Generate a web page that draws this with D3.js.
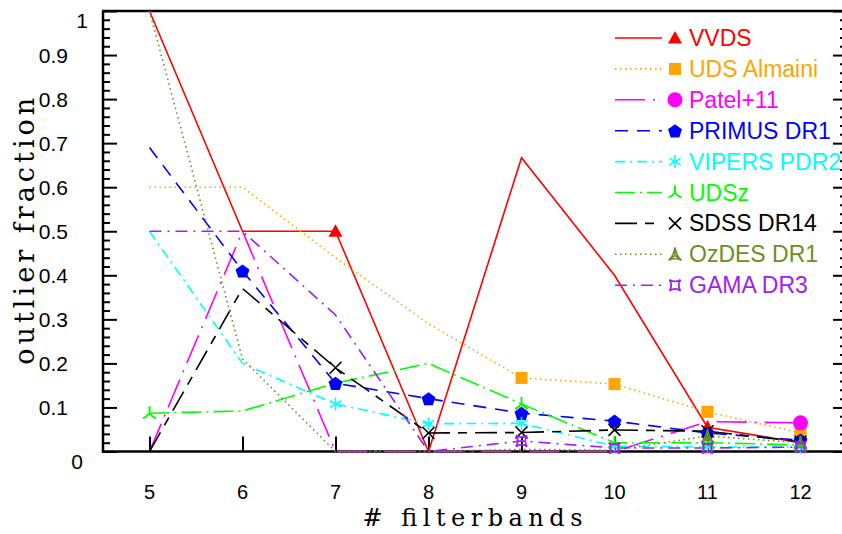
<!DOCTYPE html>
<html><head><meta charset="utf-8">
<script src="https://cdn.jsdelivr.net/npm/d3@7"></script>
<style>body{margin:0;background:#fff;} svg{display:block;}</style>
</head><body><svg id="c" width="842" height="534"></svg>
<script>
// ---------- data ----------
const filterbands = [5, 6, 7, 8, 9, 10, 11, 12];
const seriesNames = ["VVDS", "UDS Almaini", "Patel+11", "PRIMUS DR1", "VIPERS PDR2", "UDSz", "SDSS DR14", "OzDES DR1", "GAMA DR3"];
const vvds       = [1.0, 0.5, 0.5, 0, 0.667, 0.4, 0.055, 0.02];
const udsAlmaini = [0.6, 0.6, 0.44, 0.29, 0.167, 0.153, 0.09, 0.042];
const patel11    = [0, 0.5, 0, 0, 0, 0, 0.068, 0.065];
const primusDR1  = [0.69, 0.41, 0.155, 0.12, 0.087, 0.069, 0.042, 0.026];
const vipersPDR2 = [0.5, 0.2, 0.108, 0.063, 0.064, 0.012, 0.01, 0.01];
const udsz       = [0.087, 0.092, 0.155, 0.2, 0.108, 0.02, 0.02, 0.015];
const sdssDR14   = [0, 0.37, 0.19, 0.042, 0.043, 0.049, 0.046, 0.022];
const ozdesDR1   = [1.0, 0.21, 0, 0, 0.005, 0.003, 0.035, 0.02];
const gamaDR3    = [0.5, 0.5, 0.31, 0, 0.024, 0.008, 0.008, 0.01];
// which points carry a marker (1 = drawn)
const vvdsMarks   = [0, 0, 1, 0, 0, 0, 1, 0];
const udsMarks    = [0, 0, 0, 0, 1, 1, 1, 1];
const patelMarks  = [0, 0, 0, 0, 0, 0, 0, 1];
const primusMarks = [0, 1, 1, 1, 1, 1, 1, 1];
const vipersMarks = [0, 0, 1, 1, 1, 1, 1, 1];
const udszMarks   = [1, 0, 0, 0, 1, 1, 1, 1];
const sdssMarks   = [0, 0, 1, 1, 1, 1, 1, 1];
const ozdesMarks  = [0, 0, 0, 0, 0, 0, 1, 1];
const gamaMarks   = [0, 0, 0, 0, 1, 1, 1, 1];
const yTickLabels = ["0", "0.1", "0.2", "0.3", "0.4", "0.5", "0.6", "0.7", "0.8", "0.9", "1"];
const xLabel = "# filterbands";
const yLabel = "outlier fraction";

// ---------- styles ----------
const colors  = ["#ff0000", "#ffa500", "#ff00ff", "#0000ff", "#00ffff", "#00ff00", "#000000", "#6b8e23", "#a020f0"];
const dashes  = [null, "1.5,3.5", "30,8,2,8", "13,9", "10,5,2,5", "20,5,2,5", "22,8,9,8", "1.5,3.5", "12,6,2,6"];
const symbols = ["triangle", "square", "circle", "pentagon", "asterisk", "tri3", "cross", "tripod", "astroid"];
const values  = [vvds, udsAlmaini, patel11, primusDR1, vipersPDR2, udsz, sdssDR14, ozdesDR1, gamaDR3];
const marks   = [vvdsMarks, udsMarks, patelMarks, primusMarks, vipersMarks, udszMarks, sdssMarks, ozdesMarks, gamaMarks];

const series = seriesNames.map((name, i) => ({
  name, color: colors[i], dash: dashes[i], symbol: symbols[i],
  points: filterbands.map((f, j) => ({x: f, y: values[i][j], m: marks[i][j]}))
}));

const svg = d3.select("#c");
const L = 103, R = 847, T = 11, B = 451.5;
const x = d3.scaleLinear().domain([4.5, 12.5]).range([L, R]);
const y = d3.scaleLinear().domain([0, 1]).range([B, T]);
const sans = "'Liberation Sans', Arial, sans-serif";
const serif = "'DejaVu Serif', serif";

// ---------- frame & ticks ----------
const majors = d3.range(0, 11).map(d => d / 10);
const minors = d3.range(0, 51).map(d => d / 50).filter(d => Math.round(d * 50) % 5 !== 0);

function styleAxis(g) {
  g.select(".domain").remove();
  g.selectAll("line").attr("stroke", "#000").attr("stroke-width", 2);
}
svg.append("g").attr("transform", `translate(${L},0)`)
  .call(d3.axisLeft(y).tickValues(majors).tickSize(-14).tickFormat("")).call(styleAxis);
svg.append("g").attr("transform", `translate(${L},0)`)
  .call(d3.axisLeft(y).tickValues(minors).tickSize(-7).tickFormat("")).call(styleAxis);
svg.append("g").attr("transform", `translate(${R},0)`)
  .call(d3.axisRight(y).tickValues(majors).tickSize(-14).tickFormat("")).call(styleAxis);
svg.append("g").attr("transform", `translate(${R},0)`)
  .call(d3.axisRight(y).tickValues(minors).tickSize(-7).tickFormat("")).call(styleAxis);
svg.append("g").attr("transform", `translate(0,${B})`)
  .call(d3.axisBottom(x).tickValues(filterbands).tickSize(-15).tickFormat("")).call(styleAxis);

svg.append("line").attr("x1", L).attr("x2", L).attr("y1", T).attr("y2", B + 1.5)
  .attr("stroke", "#000").attr("stroke-width", 2.5);
svg.append("line").attr("x1", L - 1).attr("x2", R).attr("y1", T).attr("y2", T)
  .attr("stroke", "#000").attr("stroke-width", 2.5);
svg.append("line").attr("x1", L - 1).attr("x2", R).attr("y1", B).attr("y2", B)
  .attr("stroke", "#000").attr("stroke-width", 2.5);

// tick labels
svg.append("g").selectAll("text").data(majors).join("text")
  .attr("x", (d, i) => i === 0 ? 83 : (i === 10 ? 88 : 68))
  .attr("y", (d, i) => y(d) + (i === 0 || i === 10 ? 17 : 7.5))
  .attr("text-anchor", "end")
  .attr("font-family", sans).attr("font-size", 21)
  .text((d, i) => yTickLabels[i]);
svg.append("g").selectAll("text").data(filterbands).join("text")
  .attr("x", d => x(d)).attr("y", 499)
  .attr("text-anchor", "middle")
  .attr("font-family", sans).attr("font-size", 20)
  .text(d => d);

// axis titles
svg.append("text").attr("x", (L + 842) / 2).attr("y", 526).attr("text-anchor", "middle")
  .attr("font-family", serif).attr("font-size", 24)
  .attr("textLength", 220).attr("lengthAdjust", "spacing")
  .text(xLabel);
svg.append("text").attr("transform", `translate(34,${(T + B) / 2}) rotate(-90)`).attr("text-anchor", "middle")
  .attr("font-family", serif).attr("font-size", 27)
  .attr("textLength", 267).attr("lengthAdjust", "spacing")
  .text(yLabel);

// ---------- markers ----------
function drawMarker(g, type, color) {
  const sw = 1.6;
  switch (type) {
    case "triangle":
      g.append("path").attr("d", "M0,-7L7,5.5L-7,5.5Z").attr("fill", color); break;
    case "square":
      g.append("rect").attr("x", -6).attr("y", -6).attr("width", 12).attr("height", 12).attr("fill", color); break;
    case "circle":
      g.append("circle").attr("r", 7.5).attr("fill", color); break;
    case "pentagon": {
      const pts = d3.range(5).map(k => { const a = -Math.PI / 2 + k * 2 * Math.PI / 5; return [7.3 * Math.cos(a), 7.3 * Math.sin(a) + 0.8]; });
      g.append("path").attr("d", "M" + pts.join("L") + "Z").attr("fill", color); break;
    }
    case "asterisk": {
      const r = 6.5;
      [90, 30, 150].forEach(a => {
        const rad = a * Math.PI / 180;
        g.append("line").attr("x1", -r * Math.cos(rad)).attr("y1", -r * Math.sin(rad))
          .attr("x2", r * Math.cos(rad)).attr("y2", r * Math.sin(rad))
          .attr("stroke", color).attr("stroke-width", sw);
      });
      break;
    }
    case "tri3":
      g.append("path").attr("d", "M0,0L0,-7M0,0Q-3,4 -6.5,5M0,0Q3,4 6.5,5")
        .attr("fill", "none").attr("stroke", color).attr("stroke-width", sw + 0.4); break;
    case "cross":
      g.append("path").attr("d", "M-6,-6L6,6M-6,6L6,-6").attr("stroke", color).attr("stroke-width", sw); break;
    case "tripod":
      g.append("path").attr("d", "M0,-7L0,1M0,1L-6.5,6M0,1L6.5,6M0,-7Q-2,3 -6.5,6Q0,3 6.5,6Q2,3 0,-7")
        .attr("fill", "none").attr("stroke", color).attr("stroke-width", 1.5); break;
    case "astroid":
      g.append("path").attr("d", "M-5.5,-5.5Q0,-2 5.5,-5.5Q2,0 5.5,5.5Q0,2 -5.5,5.5Q-2,0 -5.5,-5.5Z")
        .attr("fill", "none").attr("stroke", color).attr("stroke-width", 1.8); break;
  }
}

// ---------- lines ----------
const line = d3.line().x(d => x(d.x)).y(d => y(d.y));
series.forEach(s => {
  svg.append("path").datum(s.points).attr("d", line)
    .attr("fill", "none").attr("stroke", s.color).attr("stroke-width", 1.6)
    .attr("stroke-dasharray", s.dash);
});
series.forEach(s => {
  s.points.filter(p => p.m).forEach(p => {
    const g = svg.append("g").attr("transform", `translate(${x(p.x)},${y(p.y)})`);
    drawMarker(g, s.symbol, s.color);
  });
});

// ---------- legend ----------
const lg = svg.append("g");
series.forEach((s, i) => {
  const cy = 38 + 30.9 * i;
  lg.append("line").attr("x1", 615).attr("x2", 662).attr("y1", cy).attr("y2", cy)
    .attr("stroke", s.color).attr("stroke-width", 1.6).attr("stroke-dasharray", s.dash);
  drawMarker(lg.append("g").attr("transform", `translate(675,${cy})`), s.symbol, s.color);
  lg.append("text").attr("x", 689).attr("y", cy + 8).attr("fill", s.color)
    .attr("font-family", sans).attr("font-size", 23)
    .text(s.name);
});
</script>
</body></html>
